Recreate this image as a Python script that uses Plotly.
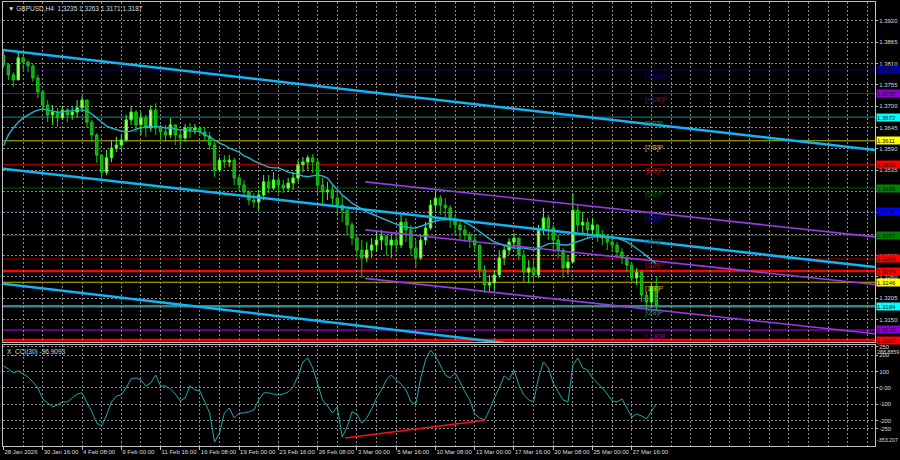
import plotly.graph_objects as go

# ---------------- data ----------------
date_labels = ["28 Jan 2026", "30 Jan 16:00", "4 Feb 08:00", "9 Feb 00:00", "11 Feb 16:00",
               "16 Feb 08:00", "19 Feb 00:00", "23 Feb 16:00", "26 Feb 08:00", "3 Mar 00:00",
               "5 Mar 16:00", "10 Mar 08:00", "13 Mar 00:00", "17 Mar 16:00", "20 Mar 08:00",
               "25 Mar 00:00", "27 Mar 16:00"]
label_bars = [0, 8, 16, 24, 32, 40, 48, 56, 64, 72, 80, 88, 96, 104, 112, 120, 128]

first_open = 1.3832
close = [1.3807, 1.3781, 1.3768, 1.3825, 1.3814, 1.3804, 1.3773, 1.3737, 1.3703, 1.3678,
         1.3685, 1.3670, 1.3690, 1.3678, 1.3685, 1.3696, 1.3716, 1.3659, 1.3626, 1.3574,
         1.3530, 1.3567, 1.3592, 1.3600, 1.3613, 1.3665, 1.3685, 1.3652, 1.3670, 1.3644,
         1.3690, 1.3644, 1.3634, 1.3626, 1.3652, 1.3626, 1.3618, 1.3644, 1.3639, 1.3644,
         1.3634, 1.3623, 1.3600, 1.3536, 1.3561, 1.3556, 1.3561, 1.3515, 1.3497, 1.3479,
         1.3458, 1.3453, 1.3471, 1.3505, 1.3489, 1.3510, 1.3497, 1.3489, 1.3502, 1.3515,
         1.3549, 1.3556, 1.3567, 1.3556, 1.3497, 1.3479, 1.3484, 1.3463, 1.3445, 1.3432,
         1.3394, 1.3360, 1.3329, 1.3309, 1.3329, 1.3342, 1.3355, 1.3365, 1.3342, 1.3355,
         1.3342, 1.3401, 1.3381, 1.3334, 1.3309, 1.3355, 1.3386, 1.3445, 1.3463, 1.3445,
         1.3438, 1.3407, 1.3394, 1.3381, 1.3368, 1.3355, 1.3342, 1.3278, 1.3239, 1.3244,
         1.3265, 1.3309, 1.3329, 1.3350, 1.3360, 1.3316, 1.3272, 1.3283, 1.3265, 1.3381,
         1.3412, 1.3386, 1.3355, 1.3329, 1.3283, 1.3298, 1.3432, 1.3394, 1.3401, 1.3381,
         1.3394, 1.3368, 1.3360, 1.3350, 1.3342, 1.3324, 1.3309, 1.3290, 1.3257, 1.3272,
         1.3213, 1.3195, 1.3235, 1.3187]
high = [1.3845, 1.3809, 1.3788, 1.3840, 1.3832, 1.3819, 1.3809, 1.3781, 1.3742, 1.3716,
        1.3703, 1.3696, 1.3701, 1.3696, 1.3701, 1.3716, 1.3727, 1.3716, 1.3665, 1.3631,
        1.3574, 1.3587, 1.3613, 1.3621, 1.3626, 1.3678, 1.3701, 1.3690, 1.3685, 1.3678,
        1.3703, 1.3708, 1.3652, 1.3652, 1.3670, 1.3652, 1.3639, 1.3654, 1.3657, 1.3654,
        1.3649, 1.3644, 1.3634, 1.3608, 1.3569, 1.3574, 1.3574, 1.3567, 1.3523, 1.3510,
        1.3484, 1.3476, 1.3484, 1.3523, 1.3523, 1.3530, 1.3518, 1.3510, 1.3515, 1.3530,
        1.3561, 1.3569, 1.3574, 1.3577, 1.3561, 1.3515, 1.3505, 1.3497, 1.3479, 1.3471,
        1.3432, 1.3401, 1.3368, 1.3355, 1.3350, 1.3360, 1.3376, 1.3381, 1.3368, 1.3373,
        1.3368, 1.3420, 1.3412, 1.3394, 1.3355, 1.3368, 1.3401, 1.3458, 1.3479, 1.3471,
        1.3463, 1.3445, 1.3420, 1.3401, 1.3394, 1.3376, 1.3368, 1.3342, 1.3290, 1.3265,
        1.3278, 1.3329, 1.3342, 1.3360, 1.3373, 1.3360, 1.3329, 1.3303, 1.3309, 1.3394,
        1.3438, 1.3420, 1.3394, 1.3368, 1.3334, 1.3316, 1.3476, 1.3445, 1.3427, 1.3412,
        1.3412, 1.3394, 1.3381, 1.3368, 1.3360, 1.3350, 1.3334, 1.3316, 1.3298, 1.3283,
        1.3278, 1.3221, 1.3244, 1.3263]
low = [1.3799, 1.3768, 1.3750, 1.3768, 1.3794, 1.3788, 1.3763, 1.3721, 1.3690, 1.3659,
       1.3652, 1.3647, 1.3665, 1.3659, 1.3665, 1.3670, 1.3685, 1.3644, 1.3608, 1.3554,
       1.3515, 1.3523, 1.3556, 1.3582, 1.3587, 1.3608, 1.3652, 1.3634, 1.3626, 1.3621,
       1.3634, 1.3626, 1.3613, 1.3608, 1.3618, 1.3600, 1.3595, 1.3608, 1.3618, 1.3628,
       1.3623, 1.3613, 1.3587, 1.3518, 1.3530, 1.3541, 1.3543, 1.3497, 1.3479, 1.3466,
       1.3445, 1.3438, 1.3432, 1.3458, 1.3476, 1.3484, 1.3476, 1.3476, 1.3479, 1.3484,
       1.3505, 1.3530, 1.3536, 1.3528, 1.3471, 1.3445, 1.3458, 1.3440, 1.3420, 1.3401,
       1.3368, 1.3342, 1.3311, 1.3257, 1.3298, 1.3309, 1.3324, 1.3329, 1.3316, 1.3309,
       1.3324, 1.3334, 1.3350, 1.3316, 1.3283, 1.3303, 1.3342, 1.3381, 1.3432, 1.3420,
       1.3412, 1.3386, 1.3368, 1.3355, 1.3350, 1.3334, 1.3324, 1.3257, 1.3218, 1.3221,
       1.3226, 1.3257, 1.3290, 1.3316, 1.3334, 1.3303, 1.3247, 1.3244, 1.3247, 1.3257,
       1.3368, 1.3355, 1.3329, 1.3309, 1.3257, 1.3265, 1.3298, 1.3376, 1.3368, 1.3360,
       1.3368, 1.3350, 1.3342, 1.3329, 1.3324, 1.3309, 1.3293, 1.3272, 1.3247, 1.3239,
       1.3195, 1.3174, 1.3180, 1.3171]
ma = [1.3598, 1.3626, 1.3644, 1.3659, 1.3670, 1.3678, 1.3685, 1.3690, 1.3693, 1.3690,
      1.3688, 1.3685, 1.3685, 1.3688, 1.3688, 1.3690, 1.3690, 1.3688, 1.3680, 1.3670,
      1.3659, 1.3649, 1.3644, 1.3639, 1.3636, 1.3634, 1.3636, 1.3641, 1.3644, 1.3647,
      1.3647, 1.3647, 1.3647, 1.3644, 1.3644, 1.3641, 1.3639, 1.3639, 1.3636, 1.3636,
      1.3634, 1.3626, 1.3621, 1.3613, 1.3605, 1.3600, 1.3592, 1.3587, 1.3582, 1.3572,
      1.3567, 1.3559, 1.3554, 1.3549, 1.3543, 1.3541, 1.3541, 1.3536, 1.3530, 1.3528,
      1.3523, 1.3520, 1.3518, 1.3520, 1.3523, 1.3520, 1.3515, 1.3499, 1.3484, 1.3471,
      1.3461, 1.3450, 1.3443, 1.3435, 1.3427, 1.3422, 1.3417, 1.3412, 1.3407, 1.3401,
      1.3396, 1.3391, 1.3389, 1.3386, 1.3386, 1.3391, 1.3396, 1.3401, 1.3404, 1.3407,
      1.3407, 1.3409, 1.3409, 1.3407, 1.3401, 1.3394, 1.3386, 1.3376, 1.3368, 1.3358,
      1.3350, 1.3345, 1.3340, 1.3337, 1.3334, 1.3334, 1.3334, 1.3332, 1.3329, 1.3334,
      1.3340, 1.3345, 1.3347, 1.3345, 1.3342, 1.3342, 1.3347, 1.3352, 1.3355, 1.3360,
      1.3363, 1.3363, 1.3363, 1.3363, 1.3363, 1.3360, 1.3355, 1.3350, 1.3342, 1.3334,
      1.3324, 1.3314, 1.3303, 1.3293]
cci = [134, 116, 92, 104, 85, 67, 37, 0, -67, -92,
       -116, -104, -85, -85, -61, -37, -30, -85, -146, -214,
       -232, -165, -85, -49, -43, 0, 55, 61, 49, 12,
       30, 79, 12, 12, -6, -37, -79, -61, 12, -12,
       -18, -85, -153, -330, -275, -153, -122, -183, -153, -153,
       -146, -134, -73, -30, -30, -37, -43, -37, -24, 6,
       73, 159, 183, 122, 30, -73, -110, -153, -116, -300,
       -238, -146, -159, -214, -183, -128, -61, -12, 49, 79,
       49, 24, -12, -85, -98, 61, 171, 232, 195, 134,
       79, 61, 92, 37, -24, -73, -159, -183, -195, -134,
       -61, 0, 73, 49, 110, 18, -43, -73, -85, 61,
       159, 122, 30, -24, -73, -85, 140, 183, 122, 110,
       61, 30, 0, -37, -79, -85, -67, -122, -177, -159,
       -171, -189, -140, -96.9093]

# trend lines: (bar0, price0, bar1, price1)
blue_trends = [(-0.1, 1.3845, 177.55, 1.3587),
               (-0.1, 1.3539, 177.55, 1.3285),
               (-0.1, 1.3242, 177.55, 1.2977)]
purple_trends = [(73.7, 1.3505, 177.55, 1.3363),
                 (73.7, 1.3381, 177.55, 1.3240),
                 (73.7, 1.3256, 177.55, 1.3113)]
cci_div = ([69.6, 98.1], [-305, -197])

# Murrey levels
mm_levels = [1.3794, 1.3733, 1.3672, 1.3611, 1.3550, 1.3489, 1.3428, 1.3367, 1.3306, 1.3246, 1.3184, 1.3123]
mm_names = ["[+2/8]P", "[+1/8]P", "[8/8]P", "[7/8]P", "[6/8]P", "[5/8]P", "[4/8]P", "[3/8]P",
            "[2/8]P", "[1/8]P", "[0/8]P", "[-1/8]P"]
mm_line_colors = ["#0000A0", "#80009C", "#108C8C", "#C0C000", "#B00000", "#005A00", "#0000FF",
                  "#005A00", "#B00000", "#C0C000", "#2A8A8A", "#8000A8"]
mm_box_colors = ["#0000A0", "#8A00D0", "#00FFFF", "#FFFF00", "#FF0000", "#008000", "#0000FF",
                 "#008000", "#FF0000", "#FFFF00", "#00FFFF", "#8A00D0"]
mm_widths = [1, 1, 1, 1, 1, 1, 1, 1, 1, 1, 2.5, 1.5]
red_levels = [1.3275, 1.3097]

price_ticks = [1.3150, 1.3205, 1.3260, 1.3315, 1.3370, 1.3425, 1.3480, 1.3535, 1.3590, 1.3645,
               1.3700, 1.3755, 1.3810, 1.3865, 1.3920]
hidden_price_ticks = [1.3370, 1.3425, 1.3480]   # covered by level boxes in the reference

title_text = "GBPUSD,H4  1.3235 1.3263 1.3171 1.3187"
cci_title = "X_CCI(30) -96.9093"
cci_ticks = [250, 200, 100, 0, -100, -200, -250]
cci_ticktext = ["250", "200", "100", "0.00", "-100", "-200", "-250"]

# ---------------- figure ----------------
FONT = "Liberation Sans"
GRID = "#8a8a8a"
BORDER = "#c0c0c0"
TXT = "#dcdcdc"

bars = list(range(len(close)))
opens = [first_open] + close[:-1]
price_ticktext = ["" if t in hidden_price_ticks else f"{t:.4f}" for t in price_ticks]

fig = go.Figure()

for (x0, p0, x1, p1) in blue_trends:
    fig.add_trace(go.Scatter(x=[x0, x1], y=[p0, p1], mode="lines",
                             line=dict(color="#12B4F5", width=2.5),
                             hoverinfo="skip", showlegend=False, xaxis="x", yaxis="y"))
for (x0, p0, x1, p1) in purple_trends:
    fig.add_trace(go.Scatter(x=[x0, x1], y=[p0, p1], mode="lines",
                             line=dict(color="#9A3AE6", width=1.6),
                             hoverinfo="skip", showlegend=False, xaxis="x", yaxis="y"))

fig.add_trace(go.Candlestick(
    x=bars, open=opens, high=high, low=low, close=close,
    increasing=dict(line=dict(color="#3CFF1E", width=1), fillcolor="#B4FF78"),
    decreasing=dict(line=dict(color="#12C812", width=1), fillcolor="#10A010"),
    whiskerwidth=0, hoverinfo="skip", showlegend=False, xaxis="x", yaxis="y"))

fig.add_trace(go.Scatter(x=bars, y=ma, mode="lines", line=dict(color="#22B4CC", width=1.4),
                         hoverinfo="skip", showlegend=False, xaxis="x", yaxis="y"))

fig.add_trace(go.Scatter(x=bars, y=cci, mode="lines", line=dict(color="#22A8AC", width=1),
                         hoverinfo="skip", showlegend=False, xaxis="x2", yaxis="y2"))
fig.add_trace(go.Scatter(x=cci_div[0], y=cci_div[1], mode="lines",
                         line=dict(color="#FF1010", width=1.5),
                         hoverinfo="skip", showlegend=False, xaxis="x2", yaxis="y2"))

shapes = []
annotations = []
for lvl, col, w in zip(mm_levels, mm_line_colors, mm_widths):
    shapes.append(dict(type="line", xref="x domain", x0=0, x1=1, yref="y", y0=lvl, y1=lvl,
                       line=dict(color=col, width=w), layer="below"))
for lvl in red_levels:
    shapes.append(dict(type="line", xref="x domain", x0=0, x1=1, yref="y", y0=lvl, y1=lvl,
                       line=dict(color="#FF0000", width=2.5), layer="below"))

for lvl, name, col in zip(mm_levels, mm_names, mm_line_colors):
    annotations.append(dict(x=130.3, y=lvl, xref="x", yref="y", text=name, showarrow=False,
                            xanchor="left", yanchor="top", yshift=-1,
                            font=dict(family=FONT, size=7, color=col)))

box_levels = mm_levels + red_levels
box_colors = mm_box_colors + ["#FF0000", "#FF0000"]
for lvl, bg in zip(box_levels, box_colors):
    annotations.append(dict(x=1, y=lvl, xref="paper", yref="y", text=f"{lvl:.4f}",
                            showarrow=False, xanchor="left", yanchor="middle", xshift=1,
                            bgcolor=bg, borderpad=0, width=23, height=7, align="left",
                            font=dict(family=FONT, size=6, color="#101010")))

annotations.append(dict(x=0, y=1, xref="paper", yref="paper", text="▼ " + title_text,
                        showarrow=False, xanchor="left", yanchor="top", xshift=3, yshift=-1,
                        font=dict(family=FONT, size=6.5, color=TXT)))
annotations.append(dict(x=0, y=1, xref="paper", yref="y2 domain", text=cci_title,
                        showarrow=False, xanchor="left", yanchor="top", xshift=2, yshift=-1,
                        font=dict(family=FONT, size=6.5, color=TXT)))
annotations.append(dict(x=1, y=1, xref="paper", yref="y2 domain", text="288.8859",
                        showarrow=False, xanchor="left", yanchor="top", xshift=0, yshift=-2,
                        font=dict(family=FONT, size=5.3, color=TXT)))
annotations.append(dict(x=1, y=0, xref="paper", yref="y2 domain", text="-353.207",
                        showarrow=False, xanchor="left", yanchor="bottom", xshift=0, yshift=1,
                        font=dict(family=FONT, size=5.3, color=TXT)))

axis_common = dict(showline=True, mirror=True, linecolor=BORDER, linewidth=1, zeroline=False,
                   gridcolor=GRID, griddash="2px,2px", gridwidth=1)

fig.update_layout(
    width=900, height=460,
    margin=dict(l=3, r=25, t=2, b=14, autoexpand=False),
    paper_bgcolor="#000000", plot_bgcolor="#000000",
    font=dict(family=FONT, size=6, color=TXT),
    showlegend=False,
    shapes=shapes, annotations=annotations,
    xaxis=dict(domain=[0, 1], anchor="y", range=[-0.1, 177.55], showticklabels=False,
               rangeslider=dict(visible=False), tickvals=label_bars, ticks="", showgrid=True,
               minor=dict(dtick=4, tick0=0, showgrid=True, gridcolor=GRID, griddash="2px,2px"),
               **axis_common),
    xaxis2=dict(domain=[0, 1], anchor="y2", matches="x", tickvals=label_bars, ticktext=date_labels,
                ticks="outside", ticklen=3, tickcolor=BORDER, ticklabelposition="outside right",
                tickangle=0, automargin=False,
                tickfont=dict(family=FONT, size=6, color=TXT), showgrid=True,
                minor=dict(dtick=4, tick0=0, showgrid=True, gridcolor=GRID, griddash="2px,2px"),
                **axis_common),
    yaxis=dict(domain=[0.2342, 1], anchor="x", range=[1.30918, 1.39690], side="right",
               tickvals=price_ticks, ticktext=price_ticktext, ticks="outside", ticklen=2,
               automargin=False,
               tickcolor=BORDER, tickfont=dict(family=FONT, size=6, color=TXT), showgrid=True,
               **axis_common),
    yaxis2=dict(domain=[0, 0.2275], anchor="x2", range=[-354, 262], side="right",
                tickvals=cci_ticks, ticktext=cci_ticktext, ticks="outside", ticklen=2,
                automargin=False,
                tickcolor=BORDER, tickfont=dict(family=FONT, size=6, color=TXT), showgrid=True,
                **axis_common),
)

fig.write_html("out.html", config={"displayModeBar": False},
               post_script="document.body.style.margin='0';document.body.style.overflow='hidden';")
